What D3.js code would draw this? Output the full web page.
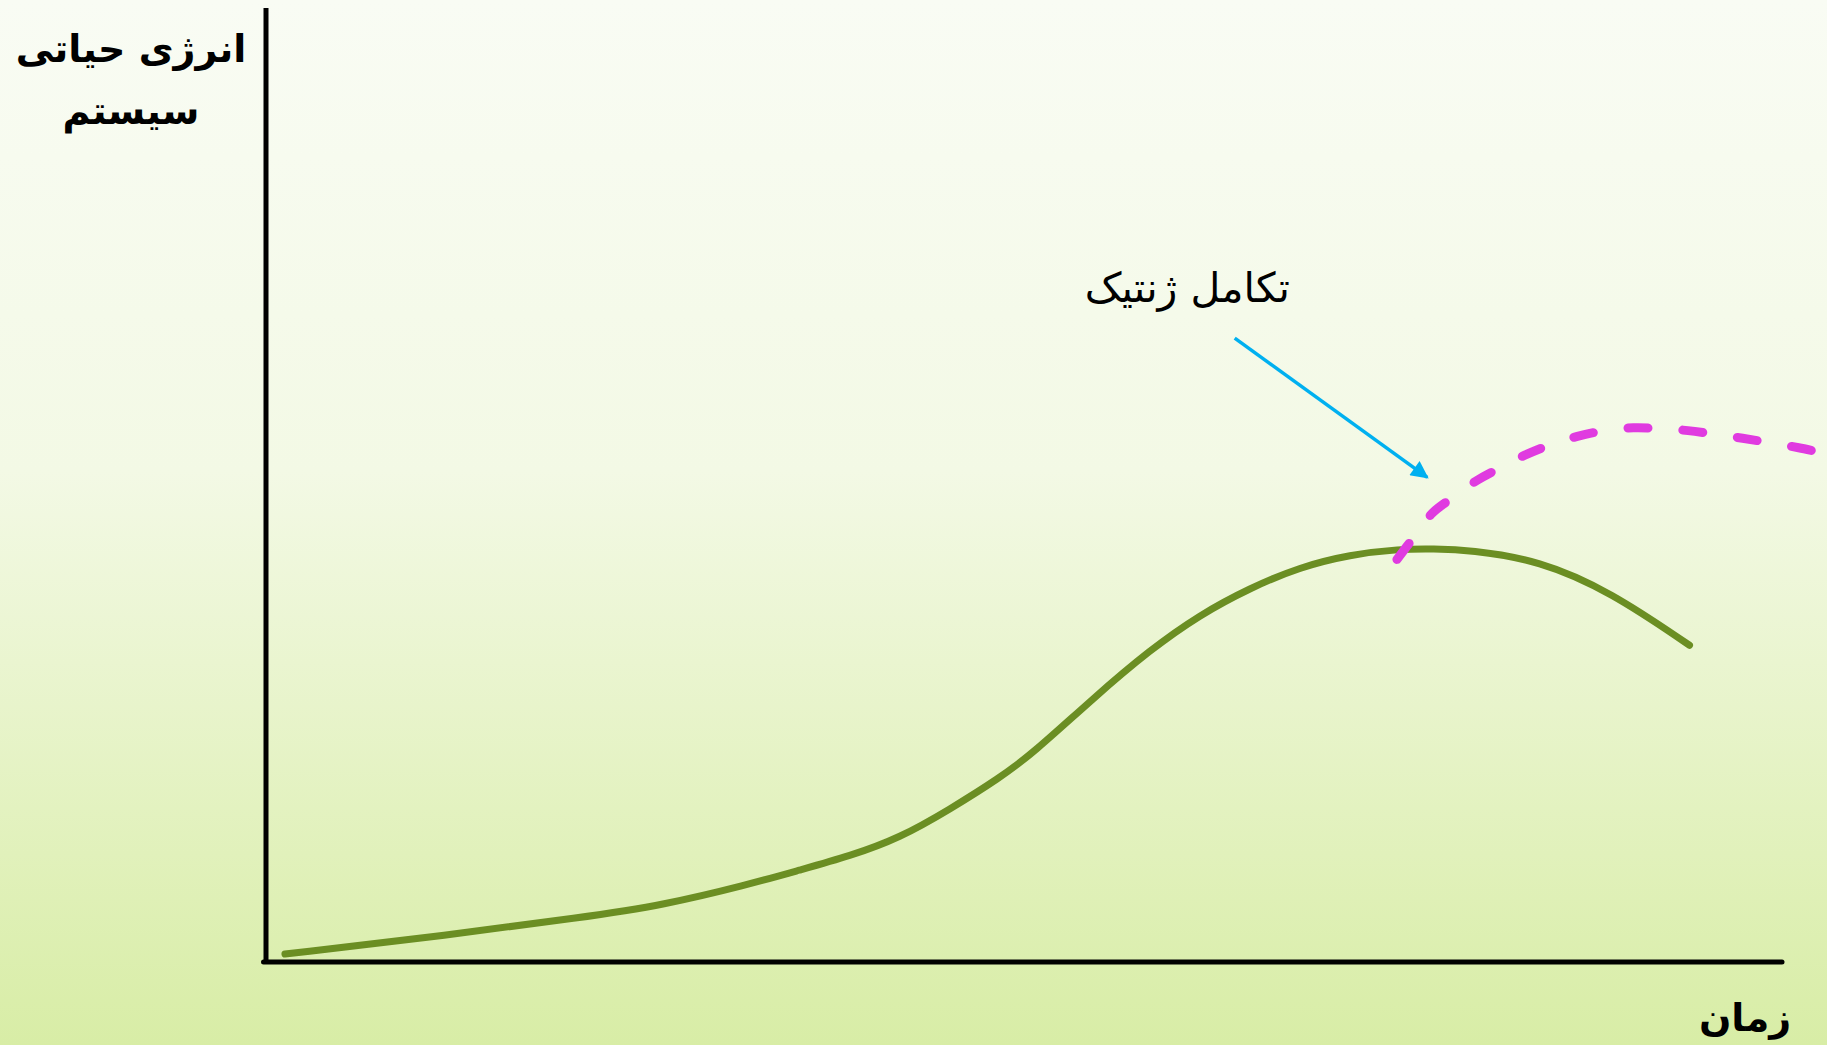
<!DOCTYPE html>
<html>
<head>
<meta charset="utf-8">
<script src="https://cdn.jsdelivr.net/npm/d3@7"></script>
<style>
  html, body { margin: 0; padding: 0; overflow: hidden; }
  svg { display: block; }
  text { font-family: "DejaVu Sans", "Noto Sans", sans-serif; }
</style>
</head>
<body>
<svg id="chart" width="1827" height="1045"></svg>
<script>
// time (0..100) vs system vital energy (0..100)
const lifeTime   = [1.25, 11.0, 21.1, 26.2, 31.7, 35.2, 38.5, 41.8, 45.1, 48.4, 50.6, 54.6, 58.3, 61.6, 64.9, 68.2, 71.5, 74.8, 77.0, 79.4, 84.0, 88.7, 93.9];
const lifeEnergy = [0.84, 2.62, 4.72, 5.97, 8.07, 9.64, 11.1, 13.0, 16.0, 19.3, 21.9, 27.7, 32.7, 36.4, 39.2, 41.4, 42.7, 43.3, 43.3, 43.2, 42.1, 38.8, 33.2];

const evoTime   = [74.6, 75.7, 76.9, 78.2, 79.9, 81.4, 83.0, 84.7, 86.5, 88.3, 90.2, 92.1, 93.8, 95.7, 97.4, 99.3, 101.1, 103.4];
const evoEnergy = [42.2, 44.5, 47.0, 48.6, 50.5, 51.8, 53.1, 54.2, 55.1, 55.7, 56.0, 55.9, 55.7, 55.3, 54.9, 54.4, 53.9, 53.1];

const arrowFrom = [63.9, 65.4];
const arrowTo   = [76.6, 50.8];

const yLabelLines = ["انرژی حیاتی", "سیستم"];
const xLabel = "زمان";
const noteLabel = "تکامل ژنتیک";

const svg = d3.select("#chart");
const W = 1827, H = 1045;

const x = d3.scaleLinear().domain([0, 100]).range([266, 1782]);
const y = d3.scaleLinear().domain([0, 100]).range([962, 8]);

// background gradient
const defs = svg.append("defs");
const grad = defs.append("linearGradient").attr("id", "bg").attr("x1", 0).attr("y1", 0).attr("x2", 0).attr("y2", 1);
grad.append("stop").attr("offset", "0%").attr("stop-color", "#f9fcf4");
grad.append("stop").attr("offset", "45%").attr("stop-color", "#f3f9e5");
grad.append("stop").attr("offset", "100%").attr("stop-color", "#d8eda6");

defs.append("marker")
    .attr("id", "arrowhead")
    .attr("viewBox", "0 0 10 10")
    .attr("refX", 9).attr("refY", 5)
    .attr("markerWidth", 5.6).attr("markerHeight", 5)
    .attr("markerUnits", "strokeWidth")
    .attr("orient", "auto")
  .append("path")
    .attr("d", "M0,0 L10,5 L0,10 Z")
    .attr("fill", "#00b0f0");

svg.append("rect").attr("width", W).attr("height", H).attr("fill", "url(#bg)");

// axes (plain lines, no ticks)
svg.append("line")
    .attr("x1", x(0)).attr("y1", y(100))
    .attr("x2", x(0)).attr("y2", y(0))
    .attr("stroke", "#000").attr("stroke-width", 5);
svg.append("line")
    .attr("x1", x(0) - 2.5).attr("y1", y(0))
    .attr("x2", x(100)).attr("y2", y(0))
    .attr("stroke", "#000").attr("stroke-width", 5).attr("stroke-linecap", "round");

const smoothLine = d3.line()
    .x(d => x(d[0]))
    .y(d => y(d[1]))
    .curve(d3.curveBasis);

const dashLine = d3.line()
    .x(d => x(d[0]))
    .y(d => y(d[1]))
    .curve(d3.curveCatmullRom.alpha(0.5));

svg.append("path")
    .datum(d3.zip(lifeTime, lifeEnergy))
    .attr("d", smoothLine)
    .attr("fill", "none")
    .attr("stroke", "#6b8e23")
    .attr("stroke-width", 7)
    .attr("stroke-linecap", "round");

svg.append("path")
    .datum(d3.zip(evoTime, evoEnergy))
    .attr("d", dashLine)
    .attr("fill", "none")
    .attr("stroke", "#e03be0")
    .attr("stroke-width", 9)
    .attr("stroke-linecap", "round")
    .attr("stroke-dasharray", "20 35");

svg.append("line")
    .attr("x1", x(arrowFrom[0])).attr("y1", y(arrowFrom[1]))
    .attr("x2", x(arrowTo[0])).attr("y2", y(arrowTo[1]))
    .attr("stroke", "#00b0f0")
    .attr("stroke-width", 3.5)
    .attr("marker-end", "url(#arrowhead)");

// labels
svg.append("text")
    .attr("x", 1290).attr("y", 302)
    .attr("direction", "rtl")
    .attr("font-size", 41)
    .attr("fill", "#000")
    .text(noteLabel);

svg.selectAll("text.ylab")
    .data(yLabelLines)
    .join("text")
    .attr("class", "ylab")
    .attr("x", 131)
    .attr("y", (d, i) => 62 + i * 62)
    .attr("text-anchor", "middle")
    .attr("font-size", 38)
    .attr("font-weight", "bold")
    .attr("fill", "#000")
    .text(d => d);

svg.append("text")
    .attr("x", 1745).attr("y", 1031)
    .attr("text-anchor", "middle")
    .attr("font-size", 38)
    .attr("font-weight", "bold")
    .attr("fill", "#000")
    .text(xLabel);
</script>
</body>
</html>
